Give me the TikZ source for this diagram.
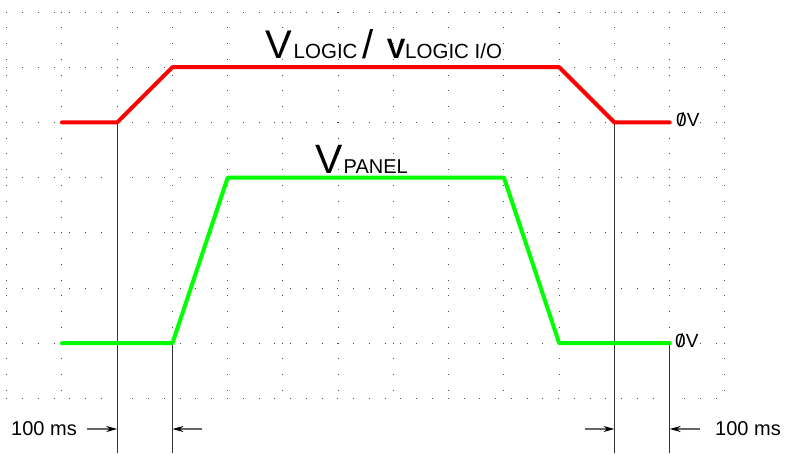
\documentclass[tikz,border=0pt]{standalone}
\usepackage{fontspec}
\setmainfont{Liberation Sans}
\usetikzlibrary{arrows.meta}
\newcommand{\fsz}[1]{\fontsize{#1}{#1}\selectfont}
\begin{document}
\begin{tikzpicture}[x=1pt,y=-1pt,
  griddots/.style={black!70,line width=1pt,dash pattern=on 1pt off 14.77pt},
  sig/.style={line width=4pt,line cap=round,line join=round},
  drop/.style={black!80,line width=1pt},
  tarrow/.style={black!60,line width=1.4pt,-{Stealth[length=11pt,width=6pt,black]}},
  lbl/.style={inner sep=0pt,anchor=base west}]
\useasboundingbox (0,0) rectangle (786,453);
% dotted grid
\foreach \y in {12,67.2,122.4,177.6,232.8,288,343.2,398.4}
  \draw[griddots] (6.2,\y) -- (726,\y);
\foreach \x in {6.7,61.95,117.2,172.45,227.7,282.95,338.2,393.45,448.7,503.95,559.2,614.45,669.7,724.95}
  \draw[griddots] (\x,11.5) -- (\x,399);
% key points
\coordinate (r0) at (61.95,122.4);
\coordinate (r1) at (117.2,122.4);
\coordinate (r2) at (172.45,67.2);
\coordinate (r3) at (559.2,67.2);
\coordinate (r4) at (614.45,122.4);
\coordinate (r5) at (669.7,122.4);
\coordinate (g0) at (61.95,343.2);
\coordinate (g1) at (172.45,343.2);
\coordinate (g2) at (227.7,177.6);
\coordinate (g3) at (503.95,177.6);
\coordinate (g4) at (559.2,343.2);
\coordinate (g5) at (669.7,343.2);
\coordinate (b1) at (117.2,453);
\coordinate (b2) at (172.45,453);
\coordinate (b3) at (614.45,453);
\coordinate (b4) at (669.7,453);
% drop lines
\draw[drop] (r1) -- (b1);
\draw[drop] (g1) -- (b2);
\draw[drop] (r4) -- (b3);
\draw[drop] (g5) -- (b4);
% signals
\draw[sig,red] (r0) -- (r1) -- (r2) -- (r3) -- (r4) -- (r5);
\draw[sig,green] (g0) -- (g1) -- (g2) -- (g3) -- (g4) -- (g5);
% timing arrows
\coordinate (a1s) at (87,429);   \coordinate (a1e) at (117.2,429);
\coordinate (a2s) at (202,429);  \coordinate (a2e) at (172.45,429);
\coordinate (a3s) at (585,429);  \coordinate (a3e) at (614.45,429);
\coordinate (a4s) at (700,429);  \coordinate (a4e) at (669.7,429);
\draw[tarrow] (a1s) -- (a1e);
\draw[tarrow] (a2s) -- (a2e);
\draw[tarrow] (a3s) -- (a3e);
\draw[tarrow] (a4s) -- (a4e);
\node[lbl] (t1) at (11,435) {\fsz{20}100 ms};
\node[lbl] (t2) at (715,435) {\fsz{20}100 ms};
% 0V labels
\node[lbl] (z1) at (676,126) {\fsz{19}\rlap{0}\makebox[0.556em]{/}V};
\node[lbl] (z2) at (675,347.3) {\fsz{19}\rlap{0}\makebox[0.556em]{/}V};
% title
\node[lbl] (v1) at (265,58.3) {\fsz{40}V};
\node[lbl] (l1) at (293.5,58.3) {\fsz{20.5}LOGIC};
\node[lbl] (sl) at (362,58.3) {\fsz{40}/};
\node[lbl] (v2) at (386.7,58.3) {\fsz{28}\bfseries V};
\node[lbl] (l2) at (405,58.3) {\fsz{20.5}LOGIC I/O};
% panel
\node[lbl] (v3) at (315,173) {\fsz{41}V};
\node[lbl] (p1) at (343.5,173) {\fsz{20}PANEL};
\end{tikzpicture}
\end{document}
